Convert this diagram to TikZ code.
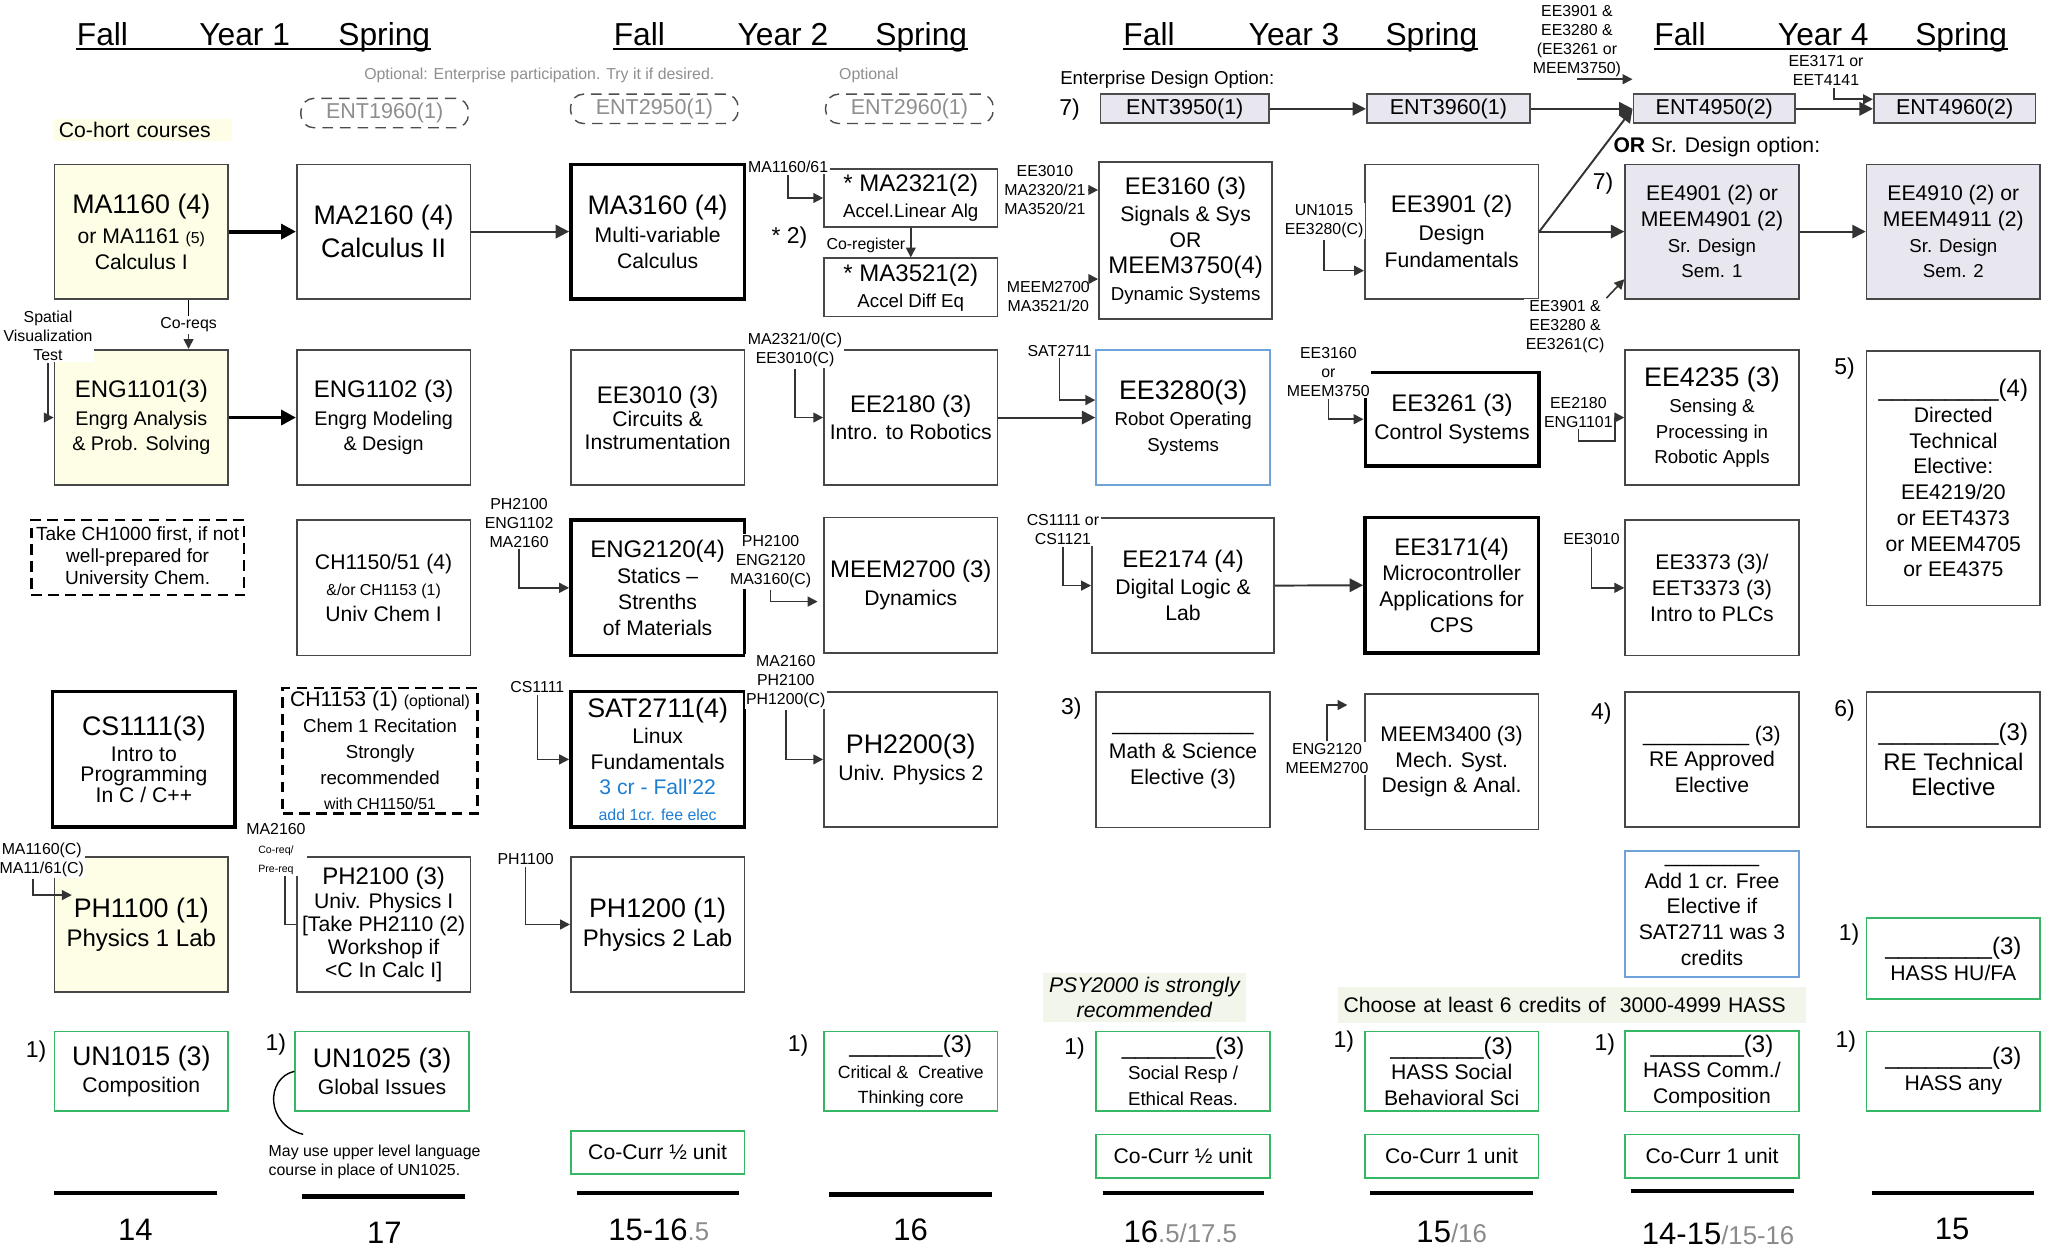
\documentclass[tikz,border=0pt]{standalone}
\usepackage{fontspec}
\setmainfont{Liberation Sans}
\usetikzlibrary{arrows.meta}

\definecolor{cohort}{HTML}{FEFDE6}
\definecolor{srfill}{HTML}{E8E6EF}
\definecolor{coregreen}{HTML}{35B864}
\definecolor{selblue}{HTML}{6FA2DC}
\definecolor{satblue}{HTML}{1E7ED3}
\definecolor{notebg}{HTML}{F2F5EA}
\definecolor{optgray}{HTML}{8E8E8E}
\definecolor{totgray}{HTML}{8A8A8A}

\newcommand{\crsbig}{\fontsize{7.6}{9}\selectfont}
\newcommand{\crsmid}{\fontsize{6.8}{8.2}\selectfont}
\newcommand{\crstxt}{\fontsize{6}{7.3}\selectfont}
\newcommand{\crsalt}{\fontsize{5.6}{7}\selectfont}
\newcommand{\crssml}{\fontsize{5.3}{6.6}\selectfont}
\newcommand{\prq}{\fontsize{4.5}{5.4}\selectfont}
\newcommand{\prqtiny}{\fontsize{3}{3.6}\selectfont}
\newcommand{\yrhead}{\fontsize{9}{11}\selectfont}
\newcommand{\totsub}{\color{totgray}\fontsize{7.3}{8}\selectfont}

\tikzset{
  crs/.style={draw=black!72, line width=0.5pt, align=center, inner sep=1pt,
    minimum width=17.29mm, font=\crstxt},
  crsbold/.style={crs, draw=black, line width=1pt},
  rowA/.style={minimum height=13.39mm},
  rowB/.style={minimum height=13.5mm},
  cohortbox/.style={fill=cohort},
  srbox/.style={fill=srfill},
  corebox/.style={crs, draw=coregreen, minimum height=7.93mm},
  cocurr/.style={crs, draw=coregreen, minimum height=4.29mm},
  bluebox/.style={crs, draw=selblue, line width=0.6pt},
  dashbox/.style={crs, draw=black, line width=0.7pt, dash pattern=on 3pt off 1.8pt},
  entopt/.style={draw=black!70, densely dashed, rounded corners=1.3mm,
    font=\fontsize{6.1}{7}\selectfont, text=optgray, minimum width=16.7mm,
    minimum height=2.93mm, inner sep=0pt},
  entbox/.style={draw=black!70, line width=0.5pt, fill=srfill,
    font=\fontsize{6.1}{7}\selectfont, minimum height=2.89mm, inner sep=0pt},
  prqlbl/.style={font=\prq, align=center, fill=white, inner sep=0.4pt},
  pre/.style={draw=black!80, line width=0.45pt, -{Triangle[length=2.8pt,width=2.8pt]}},
  flow/.style={draw=black!80, line width=0.55pt, -{Triangle[length=3.8pt,width=3.8pt]}},
  flowbig/.style={draw=black, line width=1.1pt, -{Triangle[length=4.2pt,width=4.2pt]}},
  yr/.style={font=\yrhead, anchor=base, inner sep=0pt},
  uline/.style={line width=0.55pt},
  notenum/.style={font=\fontsize{6.5}{7}\selectfont, inner sep=0pt},
  tot/.style={font=\fontsize{8.8}{10}\selectfont, inner sep=0pt},
  sumline/.style={line width=1.2pt},
}

\begin{document}
\begin{tikzpicture}[x=0.13mm, y=-0.13mm]
\useasboundingbox (0,0) rectangle (1568,956);

% year headings
\node[yr] (f1) at (78.5,34.5) {Fall};
\node[yr] (y1) at (187.5,34.5) {Year 1};
\node[yr] (s1) at (294.5,34.5) {Spring};
\node[yr] (f2) at (490,34.5) {Fall};
\node[yr] (y2) at (600,34.5) {Year 2};
\node[yr] (s2) at (706,34.5) {Spring};
\node[yr] (f3) at (880.6,34.5) {Fall};
\node[yr] (y3) at (991.7,34.5) {Year 3};
\node[yr] (s3) at (1097,34.5) {Spring};
\node[yr] (f4) at (1287.5,34.5) {Fall};
\node[yr] (y4) at (1397.3,34.5) {Year 4};
\node[yr] (s4) at (1503,34.5) {Spring};
\draw[uline] ([yshift=-1.1pt]f1.base west) -- ([yshift=-1.1pt]s1.base east);
\draw[uline] ([yshift=-1.1pt]f2.base west) -- ([yshift=-1.1pt]s2.base east);
\draw[uline] ([yshift=-1.1pt]f3.base west) -- ([yshift=-1.1pt]s3.base east);
\draw[uline] ([yshift=-1.1pt]f4.base west) -- ([yshift=-1.1pt]s4.base east);

% enterprise options
\node[font=\fontsize{4.5}{5}\selectfont, text=optgray] (opttxt) at (413.3,57.5) {Optional: Enterprise participation. Try it if desired.};
\node[font=\fontsize{4.5}{5}\selectfont, text=optgray] (opttxtb) at (665.8,57.5) {Optional};
\node[entopt] (ent1960) at (294.8,86.65) {ENT1960(1)};
\node[entopt] (ent2950) at (501.5,83.4) {ENT2950(1)};
\node[entopt] (ent2960) at (697,83.4) {ENT2960(1)};
\node[fill=cohort, font=\crstxt, text width=16.6mm, align=left, inner xsep=0.6mm, inner ysep=1pt] (cohorttxt) at (109,99.6) {Co-hort courses};

\node[anchor=west, font=\fontsize{5.3}{6}\selectfont, inner sep=0pt] (entdesign) at (812,60.8) {Enterprise Design Option:};
\node[notenum] (n7a) at (819.7,84.3) {7)};
\node[entbox, minimum width=16.78mm] (ent3950) at (908,83.4) {ENT3950(1)};
\node[entbox, minimum width=16.26mm] (ent3960) at (1110,83.4) {ENT3960(1)};
\node[entbox, minimum width=16.12mm] (ent4950) at (1313.8,83.4) {ENT4950(2)};
\node[entbox, minimum width=16.12mm] (ent4960) at (1498,83.4) {ENT4960(2)};
\node[anchor=west, font=\crstxt, inner sep=0pt] (sropt) at (1236,112.4) {\textbf{OR} Sr. Design option:};
\node[notenum] (n7b) at (1228.6,140.5) {7)};

% row 1
\node[crs, rowA, cohortbox] (ma1160) at (108.3,177.5) {{\crsbig MA1160 (4)}\\[1.2pt] or MA1161 {\prq (5)}\\Calculus I};
\node[crs, rowA] (ma2160) at (294,177.5) {{\crsbig MA2160 (4)}\\[2pt]{\crsbig Calculus II}};
\node[crsbold, rowA] (ma3160) at (504,177.5) {{\crsbig MA3160 (4)}\\[0.8pt]Multi-variable\\Calculus};
\node[crs, minimum height=5.79mm] (ma2321) at (698,151.75) {{\crsmid * MA2321(2)}\\{\crssml Accel.Linear Alg}};
\node[crs, minimum height=5.81mm] (ma3521) at (698,220.3) {{\crsmid * MA3521(2)}\\{\crssml Accel Diff Eq}};
\node[crs, minimum width=17.25mm, minimum height=15.64mm] (ee3160) at (908.6,184.5) {{\crsmid EE3160 (3)}\\[0.5pt]Signals \& Sys\\OR\\{\crsmid MEEM3750(4)}\\[0.5pt]{\crssml Dynamic Systems}};
\node[crs, rowA] (ee3901) at (1112.5,177.5) {{\crsmid EE3901 (2)}\\[0.5pt]Design\\[0.5pt]Fundamentals};
\node[crs, rowA, srbox] (ee4901) at (1312,177.5) {EE4901 (2) or\\MEEM4901 (2)\\{\crssml Sr. Design}\\{\crssml Sem. 1}};
\node[crs, rowA, srbox] (ee4910) at (1497,177.5) {EE4910 (2) or\\MEEM4911 (2)\\{\crssml Sr. Design}\\{\crssml Sem. 2}};

% row 2
\node[crs, rowB, cohortbox] (eng1101) at (108.3,320) {{\crsmid ENG1101(3)}\\[0.5pt]{\crsalt Engrg Analysis}\\{\crsalt \& Prob. Solving}};
\node[crs, rowB] (eng1102) at (294,320) {{\crsmid ENG1102 (3)}\\[0.5pt]{\crsalt Engrg Modeling}\\{\crsalt \& Design}};
\node[crs, rowB] (ee3010) at (504,320) {{\crsmid EE3010 (3)}\\[-0.8pt]Circuits \&\\[-0.8pt]Instrumentation};
\node[crs, rowB] (ee2180) at (698,320) {{\crsmid EE2180 (3)}\\[0.5pt]Intro. to Robotics};
\node[bluebox, rowB] (ee3280) at (906.7,320) {{\crsbig EE3280(3)}\\{\crssml Robot Operating}\\{\crssml Systems}};
\node[crsbold, minimum height=9.28mm] (ee3261) at (1112.8,321.3) {{\crsmid EE3261 (3)}\\[0.5pt]Control Systems};
\node[crs, rowB] (ee4235) at (1312,320) {{\crsbig EE4235 (3)}\\{\crssml Sensing \&}\\{\crssml Processing in}\\{\crssml Robotic Appls}};
\node[crs, minimum height=25.38mm] (dirtech) at (1497,366.4) {{\crsmid \_\_\_\_\_\_\_\_\_(4)}\\Directed\\Technical\\Elective:\\EE4219/20\\or EET4373\\or MEEM4705\\or EE4375};

% row 3
\node[dashbox, minimum width=21.19mm, minimum height=7.48mm, font=\fontsize{5.4}{6.3}\selectfont] (ch1000) at (105.5,427.3) {Take CH1000 first, if not\\well-prepared for\\University Chem.};
\node[crs, rowB] (ch1150) at (294,450.5) {CH1150/51 (4)\\{\prq \&/or CH1153 (1)}\\Univ Chem I};
\node[crsbold, rowB] (eng2120) at (504,450.5) {{\crsmid ENG2120(4)}\\Statics --\\Strenths\\of Materials};
\node[crs, rowB] (meem2700) at (698,448.5) {{\crsmid MEEM2700 (3)}\\[0.5pt]Dynamics};
\node[crs, rowB, minimum width=18.17mm] (ee2174) at (906.7,448.8) {{\crsmid EE2174 (4)}\\[0.3pt]Digital Logic \&\\Lab};
\node[crsbold, rowB] (ee3171) at (1112.5,448.5) {{\crsmid EE3171(4)}\\Microcontroller\\Applications for\\CPS};
\node[crs, rowB] (ee3373) at (1312,450.5) {EE3373 (3)/\\EET3373 (3)\\Intro to PLCs};

% row 4
\node[crsbold, rowB, minimum width=18.19mm] (cs1111) at (110.3,582) {{\crsbig CS1111(3)}\\Intro to\\[-1.5pt]Programming\\[-1.5pt]In C / C++};
\node[dashbox, minimum width=19.44mm, minimum height=11.8mm] (ch1153) at (291.3,575.4) {CH1153 (1) {\prq (optional)}\\{\crssml Chem 1 Recitation}\\{\crssml Strongly}\\{\crssml recommended}\\{\prq with CH1150/51}};
\node[crsbold, rowB] (sat2711) at (504,582) {{\crsbig SAT2711(4)}\\Linux\\Fundamentals\\{\color{satblue}3 cr - Fall'22}\\{\prq\color{satblue}add 1cr. fee elec}};
\node[crs, rowB] (ph2200) at (698,582) {{\crsbig PH2200(3)}\\[0.5pt]Univ. Physics 2};
\node[crs, rowB] (mathsci) at (906.7,582.3) {\_\_\_\_\_\_\_\_\_\_\_\_\\[0.5pt]Math \& Science\\Elective (3)};
\node[notenum] (n3) at (821,542.9) {3)};
\node[crs, rowB] (meem3400) at (1112.5,583.7) {MEEM3400 (3)\\Mech. Syst.\\Design \& Anal.};
\node[crs, rowB] (reapp) at (1312,582) {\_\_\_\_\_\_\_\_\_ (3)\\RE Approved\\Elective};
\node[notenum] (n4) at (1227.2,546.7) {4)};
\node[crs, rowB] (retech) at (1497,582) {{\crsmid \_\_\_\_\_\_\_\_\_(3)}\\[1.2pt]{\crsmid RE Technical}\\{\crsmid Elective}};
\node[notenum] (n5) at (1413.6,282.3) {5)};
\node[notenum] (n6) at (1413.6,544.9) {6)};

% row 5
\node[crs, rowB, cohortbox] (ph1100) at (108.3,708.5) {{\crsbig PH1100 (1)}\\[1pt]{\crsmid Physics 1 Lab}};
\node[crs, rowB] (ph2100) at (294,708.5) {{\crsmid PH2100 (3)}\\[-0.5pt]Univ. Physics I\\[-0.8pt]{[}Take PH2110 (2)\\[-0.8pt]Workshop if\\[-0.8pt]<C In Calc I]};
\node[crs, rowB] (ph1200) at (504,708.5) {{\crsbig PH1200 (1)}\\[1pt]{\crsmid Physics 2 Lab}};
\node[bluebox, minimum height=12.61mm] (add1cr) at (1312,700.5) {\_\_\_\_\_\_\_\_\\[0pt]Add 1 cr. Free\\Elective if\\SAT2711 was 3\\credits};
\node[corebox, minimum height=8.06mm] (hasshu) at (1497,734.7) {{\crsmid \_\_\_\_\_\_\_\_(3)}\\HASS HU/FA};
\node[notenum] (n1h) at (1417,716.6) {1)};

% notes
\node[fill=notebg, minimum width=20.28mm, minimum height=4.94mm, align=center, inner sep=0.5pt, font=\itshape\fontsize{6}{7.2}\selectfont] (psynote) at (877,764.4) {PSY2000 is strongly\\recommended};
\node[fill=notebg, minimum width=46.54mm, minimum height=3.54mm, text width=45.6mm, align=left, inner xsep=0.5mm, inner ysep=0.3pt, font=\crstxt] (hassnote) at (1205,770.1) {Choose at least 6 credits of \ 3000-4999 HASS};

% row 6: core
\node[corebox] (un1015) at (108.3,821) {{\crsbig UN1015 (3)}\\[0.5pt]Composition};
\node[notenum] (n1a) at (27.7,806) {1)};
\node[corebox] (un1025) at (292.8,821) {{\crsbig UN1025 (3)}\\[0.5pt]Global Issues};
\node[notenum] (n1b) at (211.4,800.9) {1)};
\node[corebox] (critical) at (698,821) {{\crsmid \_\_\_\_\_\_\_(3)}\\{\fontsize{5}{6}\selectfont Critical \&\ \ Creative}\\{\fontsize{5}{6}\selectfont Thinking core}};
\node[notenum] (n1c) at (611.7,801) {1)};
\node[corebox] (socresp) at (906.7,821) {{\crsmid \_\_\_\_\_\_\_(3)}\\{\crssml Social Resp /}\\{\crssml Ethical Reas.}};
\node[notenum] (n1d) at (823.6,803.4) {1)};
\node[corebox] (hasssoc) at (1112.5,821) {{\crsmid \_\_\_\_\_\_\_(3)}\\HASS Social\\Behavioral Sci};
\node[notenum] (n1e) at (1029.8,798.3) {1)};
\node[corebox] (hasscomm) at (1312,821) {{\crsmid \_\_\_\_\_\_\_(3)}\\HASS Comm./\\Composition};
\node[notenum] (n1f) at (1229.8,800.9) {1)};
\node[corebox] (hassany) at (1497,821) {{\crsmid \_\_\_\_\_\_\_\_(3)}\\HASS any};
\node[notenum] (n1g) at (1414.6,798.3) {1)};

% co-curricular
\node[cocurr] (cocurA) at (504,883) {Co-Curr ½ unit};
\node[cocurr] (cocurB) at (906.7,886) {Co-Curr ½ unit};
\node[cocurr] (cocurC) at (1112.5,886) {Co-Curr 1 unit};
\node[cocurr] (cocurD) at (1312,886) {Co-Curr 1 unit};

\node[font=\prq, align=left, anchor=north west, inner sep=0pt] (un1025note) at (205.4,877) {May use upper level language\\course in place of UN1025.};
\draw[line width=0.4pt] (un1025.west) .. controls +(-22.6,5.4) and +(-28.6,-7) .. ([xshift=3.5mm,yshift=1mm]un1025note.north west);

% prerequisite labels
\node[prqlbl] (lbl2321) at (604,128) {MA1160/61};
\node[prqlbl] (lblreg) at (663.6,187.8) {Co-register};
\node[notenum] (star2) at (605,181.9) {* 2)};
\node[prqlbl] (lbl3160a) at (800.8,145.6) {EE3010\\MA2320/21\\MA3520/21};
\node[prqlbl] (lbl3160b) at (803.4,227.1) {MEEM2700\\MA3521/20};
\node[prqlbl] (lbl2180) at (609.3,268.2) {MA2321/0(C)\\EE3010(C)};
\node[prqlbl] (lbl3280) at (812,268.8) {SAT2711};
\node[prqlbl] (lbl3901) at (1014.7,169.5) {UN1015\\EE3280(C)};
\node[prqlbl] (lbl3261) at (1018,285) {EE3160\\or\\MEEM3750};
\node[prqlbl] (lbl4235) at (1209.6,315.9) {EE2180\\ENG1101};
\node[prqlbl] (lbl4901) at (1199.4,250.2) {EE3901 \&\\EE3280 \&\\EE3261(C)};
\node[prqlbl] (lbl4950) at (1208.5,31.7) {EE3901 \&\\EE3280 \&\\(EE3261 or\\MEEM3750)};
\node[prqlbl] (lbl4960) at (1399.4,54) {EE3171 or\\EET4141};
\node[prqlbl] (lblspat) at (36.8,257.4) {Spatial\\Visualization\\Test};
\node[prqlbl] (lblcoreq) at (144.5,249) {Co-reqs};
\node[prqlbl] (lbl2120) at (397.8,400.5) {PH2100\\ENG1102\\MA2160};
\node[prqlbl] (lbl2700) at (590.6,430.5) {PH2100\\ENG2120\\MA3160(C)};
\node[prqlbl] (lbl2174) at (814.6,405.8) {CS1111 or\\CS1121};
\node[prqlbl] (lbl3373) at (1219.7,413.1) {EE3010};
\node[prqlbl] (lbl2711) at (411.8,526.8) {CS1111};
\node[prqlbl] (lbl2200) at (602.2,522.4) {MA2160\\PH2100\\PH1200(C)};
\node[prqlbl] (lbl3400) at (1017,581.3) {ENG2120\\MEEM2700};
\node[prqlbl] (lbl1100) at (32,658.8) {MA1160(C)\\MA11/61(C)};
\node[prqlbl] (lbl2100) at (211.5,650.4) {MA2160\\{\prqtiny Co-req/}\\{\prqtiny Pre-req}};
\node[prqlbl] (lbl1200) at (402.8,658.6) {PH1100};

% main sequence arrows
\draw[flowbig] (ma1160.east) -- (ma2160.west);
\draw[flow] (ma2160.east) -- (ma3160.west);
\draw[flowbig] (eng1101.east) -- (eng1102.west);
\draw[flow] (ee2180.east) -- (ee3280.west);
\draw[flow] (ee2174.east) -- (ee3171.west);
\draw[flow] (ee3901.east) -- (ee4901.west);
\draw[flow] (ee4901.east) -- (ee4910.west);
\draw[flow] (ee3901.east) -- (ent4950.west);
\draw[flow] (ent3950.east) -- (ent3960.west);
\draw[flow] (ent3960.east) -- (ent4950.west);
\draw[flow] (ent4950.east) -- (ent4960.west);
\draw[pre] (ma2321.south) -- (ma3521.north);

% prerequisite connectors
\draw[pre] (lbl2321.south) |- (ma2321.west);
\draw[pre] (lbl3160a.east) -- (lbl3160a.east -| ee3160.west);
\draw[pre] (lbl3160b.north east) -- (lbl3160b.north east -| ee3160.west);
\draw[pre] (lbl2180.south) |- (ee2180.west);
\draw[pre] (lbl3280.south) |- ([yshift=1.74mm]ee3280.west);
\draw[pre] (lbl3901.south) |- ([yshift=-3.89mm]ee3901.west);
\draw[pre] (lbl3261.south) |- (ee3261.west);
\draw[pre] (lbl4235.south) |- ++(28,9) |- (ee4235.west);
\draw[pre] (lbl4901.north east) -- ([yshift=2.04mm]ee4901.south west);
\draw[pre] (lbl4950.south) -- (lbl4950.south -| ent4950.west);
\draw[pre] ([xshift=0.8mm]lbl4960.south) |- ([yshift=0.95mm]ent4960.west);
\draw[pre] (lblspat.south) |- (eng1101.west);
\draw (lblcoreq.north) -- (lblcoreq.north |- ma1160.south);
\draw[pre] (lblcoreq.south) -- (lblcoreq.south |- eng1101.north);
\draw[pre] (lbl2120.south) |- (eng2120.west);
\draw[pre] (lbl2700.south) |- ([xshift=-0.55mm,yshift=-1.63mm]meem2700.west);
\draw[pre] (lbl2174.south) |- (ee2174.west);
\draw[pre] (lbl3373.south) |- (ee3373.west);
\draw[pre] (lbl2711.south) |- (sat2711.west);
\draw[pre] (lbl2200.south) |- (ph2200.west);
\draw[pre] (lbl3400.north) |- ([xshift=-1.65mm,yshift=5.64mm]meem3400.west);
\draw[pre] ([xshift=-0.9mm]lbl1100.south) |- ([xshift=1.81mm,yshift=2.93mm]ph1100.west);
\draw[line width=0.45pt, draw=black!80] ([xshift=0.9mm]lbl2100.south) |- (ph2100.west);
\draw[pre] (lbl1200.south) |- (ph1200.west);

% credit totals
\foreach \xa/\xb/\yy in {41.3/166.2/914, 231.6/356.4/917, 442/566.4/914, 635.4/760.2/915.5,
  845/969/914, 1050/1175/914, 1250/1375/912.5, 1435/1559/914}
  \draw[sumline] (\xa,\yy) -- (\xb,\yy);
\node[tot] (tot1) at (103.7,942.6) {14};
\node[tot] (tot2) at (294.5,945) {17};
\node[tot] (tot3) at (504.8,942.6) {15-16{\totsub .5}};
\node[tot] (tot4) at (697.8,942.6) {16};
\node[tot] (tot5) at (904.5,944) {16{\totsub .5/17.5}};
\node[tot] (tot6) at (1112.5,944) {15{\totsub /16}};
\node[tot] (tot7) at (1316.7,945.5) {14-15{\totsub /15-16}};
\node[tot] (tot8) at (1496,942) {15};
\end{tikzpicture}
\end{document}
